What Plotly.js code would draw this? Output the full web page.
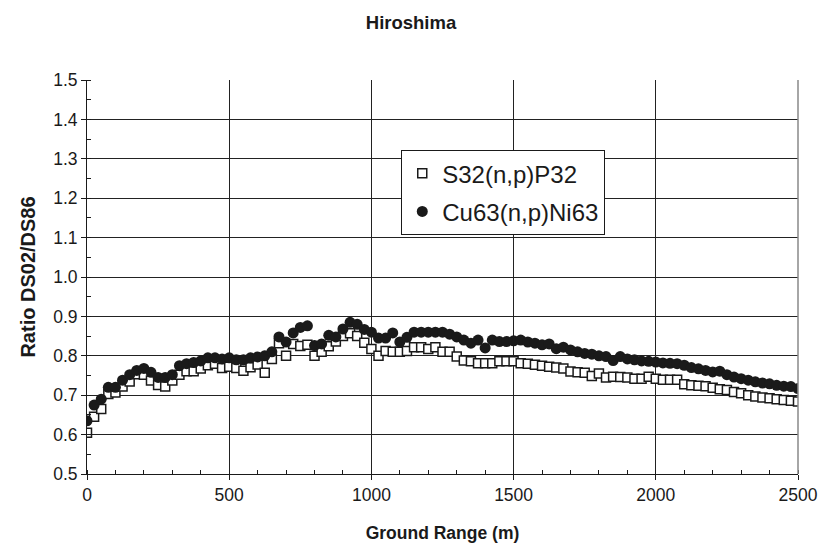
<!DOCTYPE html>
<html>
<head>
<meta charset="utf-8">
<script src="https://cdn.plot.ly/plotly-3.0.1.min.js"></script>
<style>
  html, body { margin: 0; padding: 0; background: #fff; }
  #chart { width: 822px; height: 547px; }
</style>
</head>
<body>
<div id="chart"></div>
<script>
// Ground range (m), 25 m steps from 0 to 2500
const groundRange = [];
for (let g = 0; g <= 2500; g += 25) groundRange.push(g);

// DS02/DS86 ratio for S32(n,p)P32
const ratioS32 = [
  0.605, 0.645, 0.665, 0.703, 0.707, 0.722, 0.735, 0.753, 0.752, 0.737,
  0.726, 0.722, 0.737, 0.752, 0.761, 0.761, 0.768, 0.776, 0.780, 0.769,
  0.772, 0.769, 0.762, 0.771, 0.778, 0.757, 0.792, 0.832, 0.800, 0.830,
  0.825, 0.828, 0.800, 0.810, 0.824, 0.836, 0.850, 0.857, 0.850, 0.833,
  0.817, 0.800, 0.812, 0.810, 0.810, 0.812, 0.822, 0.822, 0.817, 0.822,
  0.810, 0.810, 0.798, 0.788, 0.786, 0.781, 0.781, 0.781, 0.786, 0.786,
  0.786, 0.781, 0.780, 0.777, 0.775, 0.772, 0.770, 0.768, 0.760, 0.758,
  0.757, 0.749, 0.755, 0.745, 0.747, 0.746, 0.745, 0.742, 0.742, 0.747,
  0.742, 0.739, 0.739, 0.739, 0.728, 0.725, 0.724, 0.723, 0.719, 0.715,
  0.713, 0.708, 0.705, 0.700, 0.697, 0.694, 0.692, 0.690, 0.688, 0.686,
  0.684
];

// DS02/DS86 ratio for Cu63(n,p)Ni63
const ratioCu63 = [
  0.635, 0.675, 0.690, 0.720, 0.720, 0.738, 0.752, 0.763, 0.768, 0.758,
  0.745, 0.745, 0.752, 0.775, 0.780, 0.783, 0.787, 0.795, 0.795, 0.792,
  0.795, 0.790, 0.790, 0.795, 0.797, 0.800, 0.810, 0.848, 0.835, 0.858,
  0.872, 0.876, 0.826, 0.830, 0.852, 0.848, 0.868, 0.885, 0.880, 0.867,
  0.860, 0.845, 0.845, 0.858, 0.835, 0.847, 0.860, 0.860, 0.860, 0.860,
  0.860, 0.855, 0.848, 0.840, 0.832, 0.840, 0.820, 0.840, 0.836, 0.836,
  0.838, 0.840, 0.835, 0.832, 0.828, 0.830, 0.818, 0.822, 0.815, 0.810,
  0.806, 0.804, 0.800, 0.798, 0.788, 0.798, 0.792, 0.790, 0.787, 0.786,
  0.784, 0.782, 0.781, 0.780, 0.776, 0.770, 0.767, 0.763, 0.759, 0.761,
  0.752, 0.746, 0.742, 0.738, 0.734, 0.731, 0.729, 0.725, 0.723, 0.722,
  0.717
];

const seriesNames = ['S32(n,p)P32', 'Cu63(n,p)Ni63'];

const font = 'Liberation Sans, Arial, sans-serif';

const traces = [
  {
    x: groundRange, y: ratioS32, name: seriesNames[0], legendgroup: 's32',
    type: 'scatter', mode: 'markers',
    marker: { symbol: 'square', size: 9, color: '#ffffff', line: { color: '#1a1a1a', width: 1.5 } }
  },
  {
    x: groundRange, y: ratioCu63, name: seriesNames[1], legendgroup: 'cu63',
    type: 'scatter', mode: 'markers',
    marker: { symbol: 'circle', size: 11, color: '#1a1a1a', line: { width: 0 } }
  }
];

const layout = {
  width: 822, height: 547,
  margin: { l: 87, r: 24, t: 80, b: 73 },
  paper_bgcolor: '#ffffff', plot_bgcolor: '#ffffff',
  font: { family: font, size: 17.5, color: '#1a1a1a' },
  title: { text: '<b>Hiroshima</b>', font: { family: font, size: 18.5, color: '#1a1a1a' }, x: 0.5, xanchor: 'center', y: 0.958, yanchor: 'middle' },
  showlegend: true,
  legend: {
    x: 0.442, y: 0.822, xanchor: 'left', yanchor: 'top',
    bgcolor: '#ffffff', bordercolor: '#1a1a1a', borderwidth: 1,
    font: { family: font, size: 24, color: '#1a1a1a' },
    traceorder: 'grouped', tracegroupgap: 4, itemwidth: 30,
    entrywidth: 216, entrywidthmode: 'pixels'
  },
  xaxis: {
    range: [0, 2500], tickmode: 'array', tickvals: [0, 500, 1000, 1500, 2000, 2500],
    showgrid: true, gridcolor: '#222222', gridwidth: 1,
    zeroline: false, showline: true, linecolor: '#1a1a1a', linewidth: 1, mirror: false,
    ticks: 'outside', ticklen: 5, tickcolor: '#1a1a1a',
    tickfont: { family: font, size: 17.5 },
    minor: { dtick: 100, ticks: 'inside', ticklen: 4, tickcolor: '#1a1a1a', showgrid: false },
    title: { text: '<b>Ground Range (m)</b>', font: { family: font, size: 17.5 }, standoff: 22 }
  },
  yaxis: {
    range: [0.5, 1.5], dtick: 0.1, tickformat: '.1f',
    showgrid: true, gridcolor: '#222222', gridwidth: 1,
    zeroline: false, showline: true, linecolor: '#1a1a1a', linewidth: 1, mirror: false,
    ticks: 'outside', ticklen: 5, tickcolor: '#1a1a1a',
    tickfont: { family: font, size: 17.5 },
    minor: { dtick: 0.05, ticks: 'inside', ticklen: 4, tickcolor: '#1a1a1a', showgrid: false },
    title: { text: '<b>Ratio DS02/DS86</b>', font: { family: font, size: 20 }, standoff: 12 }
  },
  shapes: [
    { type: 'line', xref: 'paper', yref: 'paper', x0: 1, x1: 1, y0: 0, y1: 1, line: { color: '#888888', width: 1.5 } }
  ]
};

Plotly.newPlot('chart', traces, layout, { displayModeBar: false, staticPlot: true });
</script>
</body>
</html>
